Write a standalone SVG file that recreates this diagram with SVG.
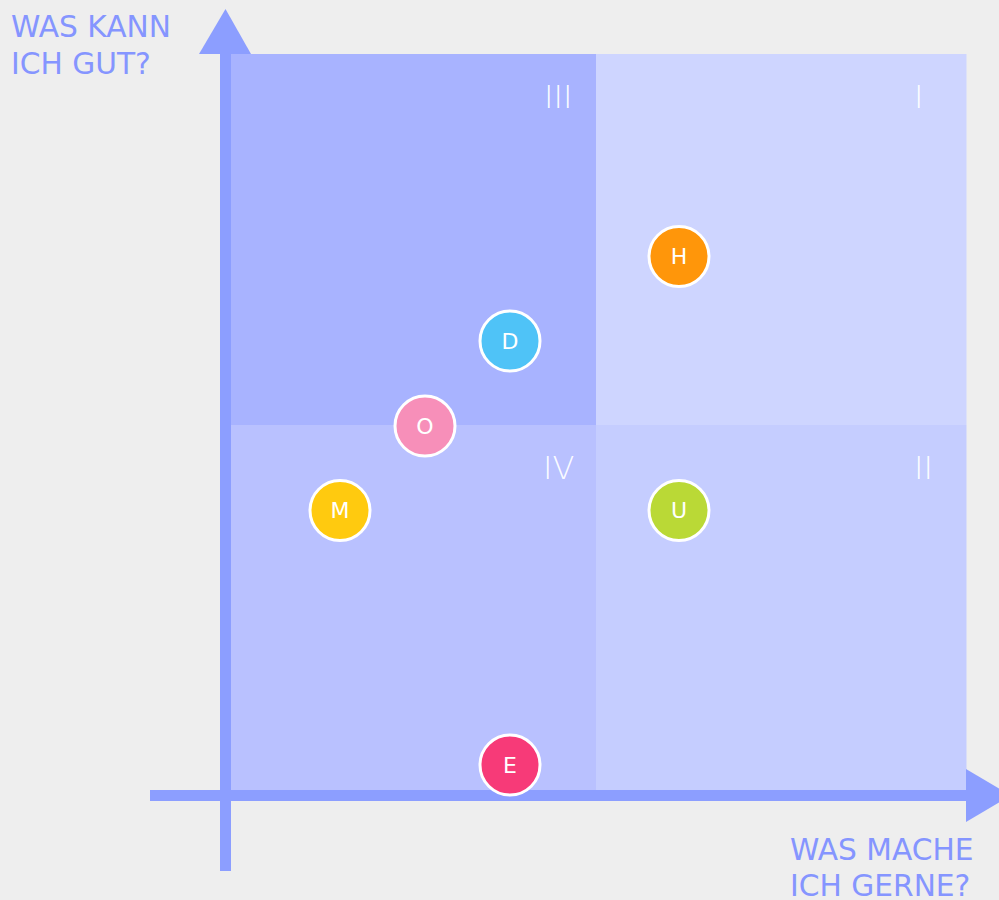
<svg xmlns="http://www.w3.org/2000/svg" width="999" height="900" viewBox="0 0 999 900">
<style>
.axis{fill:#8c9eff}
.lbl{font-family:"DejaVu Sans","Liberation Sans",sans-serif;font-size:29.7px;fill:#8595ff}
.num{font-family:"DejaVu Sans","Liberation Sans",sans-serif;font-size:32px;font-weight:200;fill:#ffffff;fill-opacity:0.95}
.dot circle{stroke:#ffffff;stroke-width:3}
.dot text{font-family:"DejaVu Sans","Liberation Sans",sans-serif;font-size:22px;fill:#ffffff;text-anchor:middle;dominant-baseline:central}
</style>
<rect width="999" height="900" fill="#eeeeee"/>
<g id="quadrants">
<rect id="q3" x="225.5" y="54" width="370.5" height="371" fill="#a8b3ff"/>
<rect id="q1" x="596" y="54" width="370.5" height="371" fill="#ced5ff"/>
<rect id="q4" x="225.5" y="425" width="370.5" height="370.5" fill="#b9c1ff"/>
<rect id="q2" x="596" y="425" width="370.5" height="370.5" fill="#c5cdff"/>
<text class="num" x="544" y="108">III</text>
<text class="num" x="914" y="108">I</text>
<text class="num" x="543" y="479">IV</text>
<text class="num" x="914" y="479">II</text>
</g>
<g id="axes">
<rect class="axis" x="220" y="54" width="11" height="817"/>
<polygon class="axis" points="199,54 251,54 225.5,9"/>
<rect class="axis" x="150" y="790" width="817" height="11"/>
<polygon class="axis" points="966,769 966,822 1011,795.5"/>
</g>
<g id="labels">
<text class="lbl" x="11" y="37">WAS KANN</text>
<text class="lbl" x="11" y="74">ICH GUT?</text>
<text class="lbl" x="790" y="860">WAS MACHE</text>
<text class="lbl" x="790" y="896">ICH GERNE?</text>
</g>
<g id="H" class="dot"><circle cx="679" cy="256.5" r="30" fill="#ff960a"/><text x="679" y="256.5">H</text></g>
<g id="D" class="dot"><circle cx="510" cy="341" r="30" fill="#4fc3f7"/><text x="510" y="341">D</text></g>
<g id="O" class="dot"><circle cx="425" cy="426" r="30" fill="#f78fb9"/><text x="425" y="426">O</text></g>
<g id="M" class="dot"><circle cx="340" cy="510.5" r="30" fill="#ffca0f"/><text x="340" y="510.5">M</text></g>
<g id="U" class="dot"><circle cx="679" cy="510.5" r="30" fill="#bad936"/><text x="679" y="510.5">U</text></g>
<g id="E" class="dot"><circle cx="510" cy="765" r="30" fill="#f73a78"/><text x="510" y="765">E</text></g>
</svg>
